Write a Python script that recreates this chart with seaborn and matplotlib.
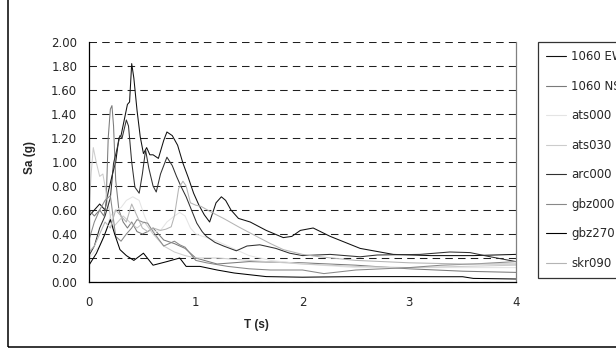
import pandas as pd
import seaborn as sns
import matplotlib.pyplot as plt
from matplotlib.patches import Rectangle

# Spettri di risposta Sa(T)
names = ['1060 EW', '1060 NS', 'ats000', 'ats030', 'arc000', 'gbz000', 'gbz270', 'skr090']
colors = ['#101010', '#7a7a7a', '#e4e4e4', '#cccccc', '#303030', '#888888', '#000000', '#b4b4b4']

t_1060e = [0, 0.05, 0.1, 0.15, 0.18, 0.22, 0.25, 0.28, 0.3, 0.33, 0.36, 0.38, 0.4, 0.42, 0.45, 0.48,
           0.51, 0.54, 0.57, 0.6, 0.65, 0.7, 0.73, 0.78, 0.83, 0.88, 0.93, 0.98, 1.03, 1.08, 1.13,
           1.19, 1.24, 1.28, 1.33, 1.4, 1.51, 1.66, 1.82, 1.9, 1.98, 2.1, 2.26, 2.54, 2.85, 3.2, 3.6, 4.0]
sa_1060e = [0.55, 0.6, 0.65, 0.6, 0.75, 0.9, 1.0, 1.2, 1.22, 1.35, 1.48, 1.5, 1.82, 1.7, 1.43, 1.21,
            1.07, 1.12, 1.06, 1.06, 1.03, 1.18, 1.25, 1.22, 1.14, 0.99, 0.87, 0.74, 0.64, 0.56, 0.5,
            0.66, 0.71, 0.68, 0.6, 0.53, 0.5, 0.43, 0.37, 0.38, 0.43, 0.45, 0.38, 0.28, 0.23, 0.22, 0.22, 0.23]

t_1060n = [0, 0.05, 0.1, 0.14, 0.16, 0.18, 0.2, 0.215, 0.23, 0.25, 0.28, 0.32, 0.36, 0.4, 0.45, 0.5,
           0.55, 0.6, 0.7, 0.8, 0.9, 1.0, 1.2, 1.5, 2.0, 2.5, 3.0, 3.5, 4.0]
sa_1060n = [0.6, 0.55, 0.6, 0.55, 0.65, 1.2, 1.44, 1.47, 1.3, 0.85, 0.6, 0.5, 0.45, 0.5, 0.42, 0.4,
            0.42, 0.45, 0.35, 0.32, 0.28, 0.2, 0.15, 0.17, 0.16, 0.14, 0.11, 0.09, 0.08]

t_ats000 = [0, 0.05, 0.1, 0.15, 0.2, 0.25, 0.3, 0.35, 0.41, 0.47, 0.52, 0.57, 0.62, 0.67, 0.73, 0.8,
            0.85, 0.9, 0.95, 1.0, 1.1, 1.2, 1.35, 1.5, 1.7, 2.0, 2.5, 3.0, 3.5, 4.0]
sa_ats000 = [0.2, 0.25, 0.3, 0.4, 0.55, 0.6, 0.62, 0.68, 0.71, 0.68, 0.55, 0.45, 0.42, 0.43, 0.5, 0.55,
             0.58, 0.55, 0.45, 0.4, 0.37, 0.34, 0.28, 0.22, 0.18, 0.15, 0.12, 0.12, 0.12, 0.12]

t_ats030 = [0, 0.02, 0.04, 0.07, 0.1, 0.13, 0.16, 0.19, 0.22, 0.27, 0.32, 0.38, 0.45, 0.52, 0.6, 0.7,
            0.8, 0.9, 1.0, 1.2, 1.5, 2.0, 2.5, 3.0, 3.5, 4.0]
sa_ats030 = [0.58, 0.9, 1.12, 0.99, 0.88, 0.9, 0.75, 0.6, 0.45, 0.5, 0.55, 0.5, 0.45, 0.5, 0.4, 0.3,
             0.25, 0.22, 0.2, 0.2, 0.18, 0.15, 0.13, 0.12, 0.13, 0.14]

t_arc000 = [0, 0.05, 0.1, 0.15, 0.2, 0.23, 0.26, 0.29, 0.31, 0.35, 0.37, 0.4, 0.43, 0.47, 0.5, 0.53,
            0.56, 0.6, 0.63, 0.67, 0.73, 0.78, 0.82, 0.86, 0.91, 0.96, 1.01, 1.06, 1.1, 1.18, 1.26,
            1.38, 1.48, 1.6, 1.75, 1.88, 2.0, 2.26, 2.54, 2.7, 3.1, 3.38, 3.57, 3.76, 4.0]
sa_arc000 = [0.22, 0.3, 0.45, 0.55, 0.7, 0.99, 1.1, 1.22, 1.2, 1.35, 1.3, 1.0, 0.79, 0.74, 0.9, 1.1,
             0.95, 0.8, 0.75, 0.9, 1.04, 0.97, 0.88, 0.8, 0.71, 0.6, 0.49, 0.42, 0.38, 0.33, 0.3,
             0.26, 0.3, 0.31, 0.28, 0.24, 0.22, 0.23, 0.21, 0.225, 0.23, 0.25, 0.245, 0.21, 0.17]

t_gbz000 = [0, 0.05, 0.1, 0.15, 0.2, 0.25, 0.3, 0.35, 0.4, 0.45, 0.5, 0.55, 0.6, 0.7, 0.8, 0.85, 0.9,
            1.0, 1.1, 1.3, 1.5, 1.7, 2.0, 2.2, 2.5, 3.0, 3.3, 3.6, 4.0]
sa_gbz000 = [0.35, 0.5, 0.6, 0.68, 0.72, 0.38, 0.34, 0.4, 0.45, 0.52, 0.5, 0.49, 0.42, 0.3, 0.34, 0.31,
             0.29, 0.18, 0.16, 0.13, 0.11, 0.1, 0.1, 0.07, 0.1, 0.12, 0.14, 0.15, 0.17]

t_gbz270 = [0, 0.07, 0.14, 0.2, 0.24, 0.29, 0.35, 0.42, 0.51, 0.6, 0.73, 0.85, 0.91, 1.04, 1.2, 1.36,
            1.66, 2.0, 2.5, 3.0, 3.3, 3.5, 3.6, 4.0]
sa_gbz270 = [0.14, 0.24, 0.38, 0.52, 0.4, 0.27, 0.22, 0.18, 0.24, 0.14, 0.17, 0.2, 0.13, 0.13, 0.1, 0.075,
             0.045, 0.04, 0.045, 0.045, 0.044, 0.044, 0.03, 0.025]

t_skr090 = [0, 0.05, 0.1, 0.15, 0.2, 0.25, 0.3, 0.35, 0.4, 0.45, 0.5, 0.55, 0.6, 0.67, 0.72, 0.77, 0.8,
            0.84, 0.88, 0.91, 0.95, 1.0, 1.05, 1.15, 1.26, 1.4, 1.57, 1.7, 1.82, 2.0, 2.16, 2.5, 3.0,
            3.5, 4.0]
sa_skr090 = [0.25, 0.3, 0.4, 0.5, 0.45, 0.6, 0.55, 0.5, 0.65, 0.55, 0.45, 0.42, 0.45, 0.43, 0.44, 0.46,
             0.55, 0.78, 0.84, 0.8, 0.66, 0.64, 0.63, 0.58, 0.53, 0.46, 0.38, 0.32, 0.27, 0.23, 0.21,
             0.18, 0.16, 0.15, 0.15]

series = [(t_1060e, sa_1060e), (t_1060n, sa_1060n), (t_ats000, sa_ats000), (t_ats030, sa_ats030),
          (t_arc000, sa_arc000), (t_gbz000, sa_gbz000), (t_gbz270, sa_gbz270), (t_skr090, sa_skr090)]

rows = []
for name, (tt, ss) in zip(names, series):
    for t, s in zip(tt, ss):
        rows.append({'T': t, 'Sa': s, 'Record': name})
df = pd.DataFrame(rows)

sns.set_style('white')
plt.rcParams['font.family'] = ['DejaVu Sans']

fig = plt.figure(figsize=(6.16, 3.51), dpi=100)
ax = fig.add_axes([89 / 616, 69 / 351, 427 / 616, 240 / 351])

# cornice esterna del grafico
fig.patches.append(Rectangle((8 / 616, 4 / 351), 1.0, 0.995, transform=fig.transFigure,
                             fill=False, edgecolor='black', linewidth=1.1))

sns.lineplot(data=df, x='T', y='Sa', hue='Record', hue_order=names, palette=dict(zip(names, colors)),
             estimator=None, sort=False, linewidth=0.75, ax=ax, legend=False)

ax.set_xlim(0, 4)
ax.set_ylim(0, 2)
ax.set_xticks([0, 1, 2, 3, 4])
ax.set_yticks([0.2 * k for k in range(11)])
ax.set_yticklabels([f'{0.2 * k:.2f}' for k in range(11)])
ax.yaxis.grid(True, color='#202020', linestyle=(0, (7.2, 5.0)), linewidth=0.75)
ax.xaxis.grid(False)
ax.tick_params(axis='both', labelsize=8.5, length=3, width=0.8, color='black', direction='out')
ax.tick_params(axis='x', pad=7)
ax.tick_params(axis='y', pad=5.5)
ax.spines['top'].set_visible(False)
ax.spines['left'].set_color('black')
ax.spines['bottom'].set_color('black')
ax.spines['right'].set_color('#808080')
for s in ax.spines.values():
    s.set_linewidth(0.9)

ax.set_xlabel('T (s)', fontsize=8.5, fontweight='bold', family='Liberation Sans')
ax.set_ylabel('Sa (g)', fontsize=8.5, fontweight='bold', family='Liberation Sans')
ax.xaxis.set_label_coords(0.393, -0.155)
ax.yaxis.set_label_coords(-0.124, 0.52)

handles = [plt.Line2D([], [], color=c, linewidth=0.8) for c in colors]
leg = fig.legend(handles, names, loc='upper left', bbox_to_anchor=(538 / 616, 1 - 42 / 351),
                 frameon=True, fancybox=False, edgecolor='black', fontsize=8.5, borderaxespad=0,
                 labelspacing=1.40, handlelength=1.7, handletextpad=0.42, borderpad=0.69)
leg.get_frame().set_linewidth(0.9)

plt.savefig('out.png', dpi=100)
plt.close()
